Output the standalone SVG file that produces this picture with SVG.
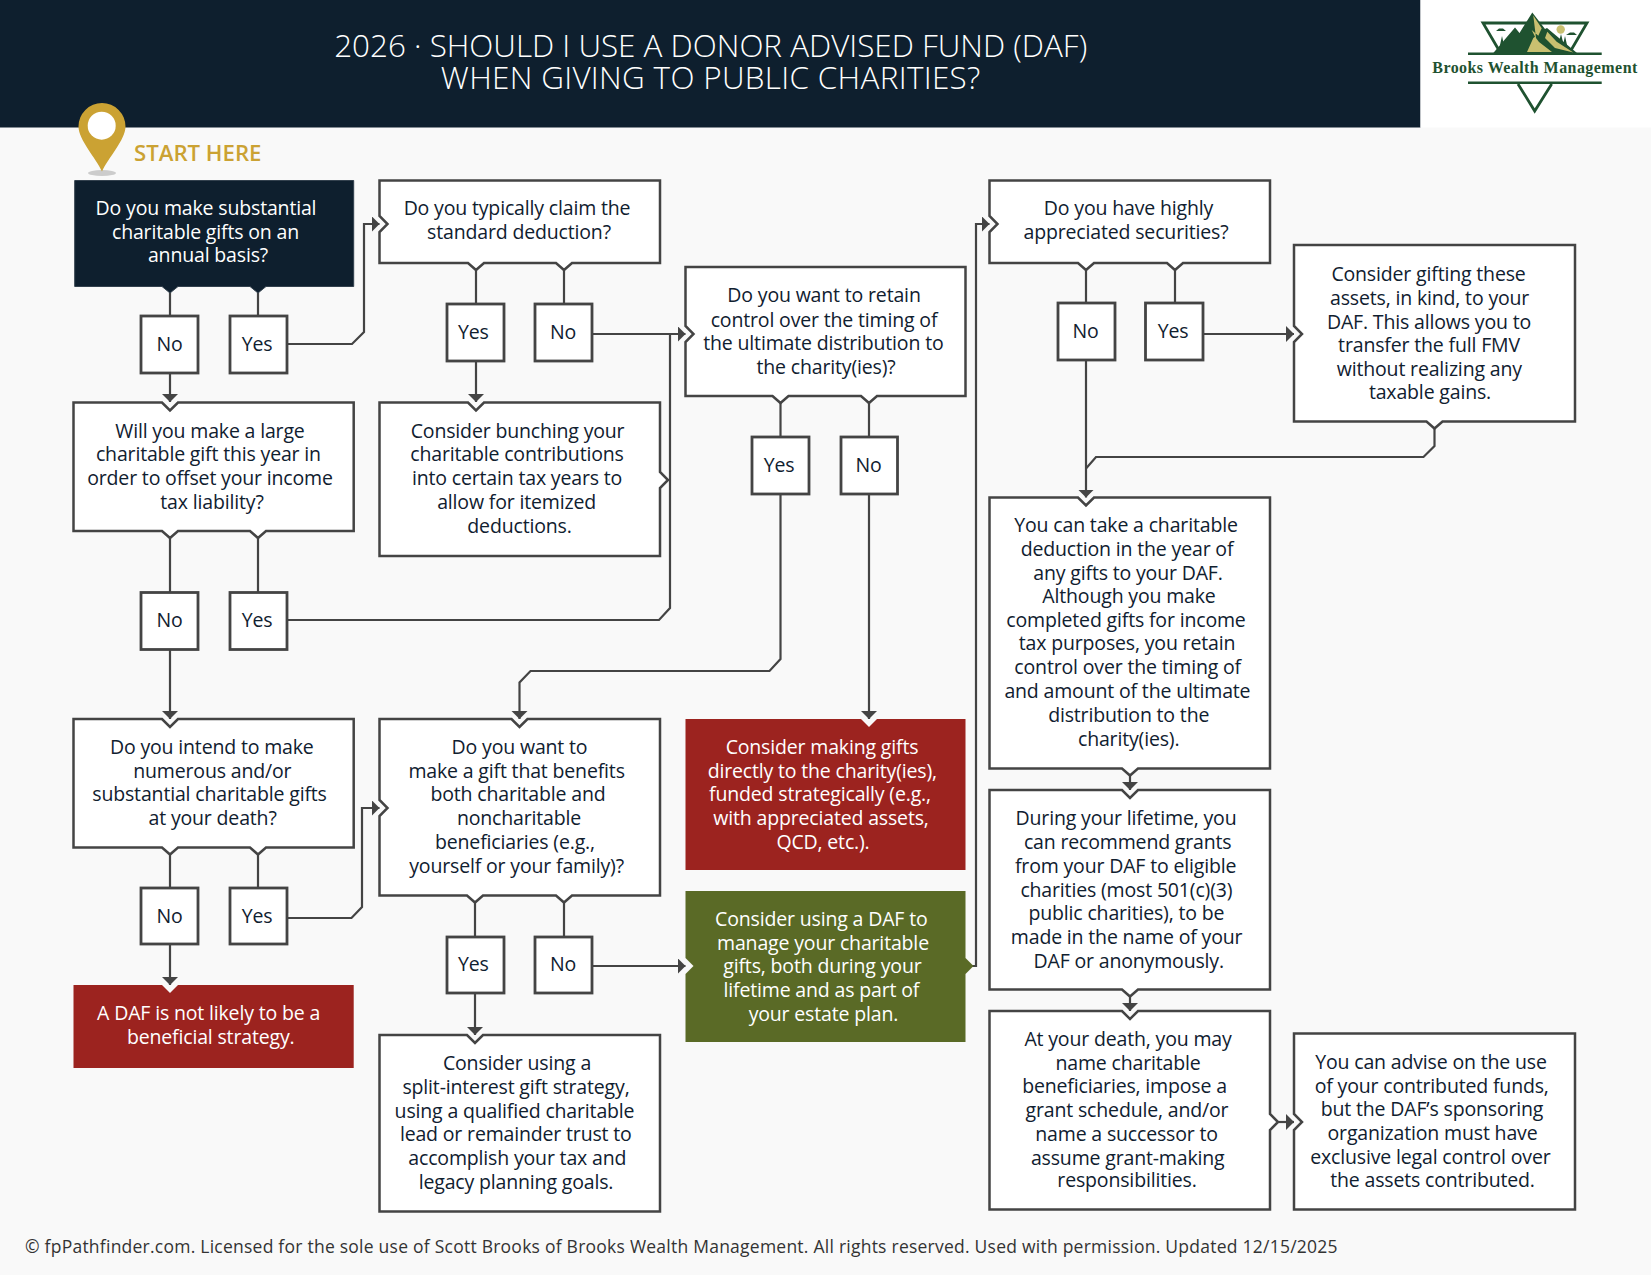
<svg xmlns="http://www.w3.org/2000/svg" width="1651" height="1275" viewBox="0 0 1651 1275">
<defs>
<marker id="ah" markerUnits="userSpaceOnUse" markerWidth="9" markerHeight="18" refX="8" refY="8" orient="auto"><path d="M0 0L8 8L0 16Z" fill="#444"/></marker>
</defs>
<style>
text{font-family:"Open Sans","Noto Sans","Liberation Sans",sans-serif}
.b{fill:#fff;stroke:#444;stroke-width:2.5}
.t{font-size:19.5px;letter-spacing:-.16px;fill:#10202f;text-anchor:middle}
.c{fill:none;stroke:#444;stroke-width:2.2;stroke-linejoin:miter}
.yn{fill:#fff;stroke:#444;stroke-width:2.8}
.title{font-size:31.4px;font-weight:300;fill:#fff;text-anchor:middle}
.lg{fill:none;stroke:#1f5230;stroke-width:2.8}
</style>
<rect width="1651" height="1275" fill="#f9f9f9"/>
<g id="header">
<rect width="1420.5" height="127.5" fill="#0e1f2e"/>
<rect x="1420.5" width="230.5" height="127.5" fill="#fff"/>
<text class="title" x="710.7" y="57">2026 · SHOULD I USE A DONOR ADVISED FUND (DAF)</text>
<text class="title" x="710.7" y="89" letter-spacing=".33">WHEN GIVING TO PUBLIC CHARITIES?</text>
</g>
<g id="logo">
<path class="lg" d="M1500 52L1483 23H1587L1570 52"/>
<path d="M1468 52.5H1601.7V55H1468ZM1468 81.5H1601.7V84H1468Z" fill="#1f5230"/>
<path class="lg" d="M1518 84L1534.7 111L1551.7 84"/>
<circle cx="1560.7" cy="29.5" r="4.2" fill="#c9c070"/>
<path d="M1496 31h10l-3-2.5h-4ZM1566 35h11l-3-2.500h-4Z" fill="#1f5230"/>
<path d="M1500 45l2-9 2 9ZM1563 45l2-9 2 9ZM1559 42l2-8 2 8Z" fill="#1f5230"/>
<path d="M1493.300 53L1515 27.500L1519.500 33L1532.300 12.500L1545 29L1547 28L1577 53Z" fill="#1f5230"/>
<path d="M1533.300 15.500L1541.700 28.300L1538.300 35.700L1531.700 30L1535 36.700L1533.300 38L1527 52H1552L1539 42L1536 38ZM1547.300 31.700L1556.700 41.700L1573.300 52.500L1555 48L1545 38Z" fill="#c9c070"/>
<text x="1432.300" y="73.300" font-size="16" font-weight="700" fill="#1f5230" textLength="205" lengthAdjust="spacing" style="font-family:'Liberation Serif',serif">Brooks Wealth Management</text>
</g>
<g id="start">
<ellipse cx="102" cy="173" rx="14" ry="3" fill="#ccc"/>
<path d="M102 171.500C96 158 78.500 140 78.500 126.500A23.500 23.500 0 0 1 125.500 126.500C125.500 140 108 158 102 171.500Z" fill="#cba233"/>
<circle cx="101.700" cy="125.700" r="14" fill="#fff"/>
<text x="134" y="160.700" font-size="22.200" font-weight="600" fill="#cba233">START HERE</text>
</g>
<g id="connectors">
<path class="c" d="M170 286.500V316M258 286.500V316"/>
<path class="c" d="M170 373V402" marker-end="url(#ah)"/>
<path class="c" d="M287 344H352L364 332V224H379.500" marker-end="url(#ah)"/>
<path class="c" d="M476 263V304M564 263V304"/>
<path class="c" d="M476 361V402" marker-end="url(#ah)"/>
<path class="c" d="M592 334H685.500" marker-end="url(#ah)"/>
<path class="c" d="M287 620H659L670 608V334M664 480H670"/>
<path class="c" d="M780.500 396V437M869 396V437"/>
<path class="c" d="M780.500 494V659L769.500 671H530.500L519.500 682.500V719" marker-end="url(#ah)"/>
<path class="c" d="M869 494V719" marker-end="url(#ah)"/>
<path class="c" d="M170 531V593M258 531V593"/>
<path class="c" d="M170 649V719" marker-end="url(#ah)"/>
<path class="c" d="M170 848V888M258 848V888"/>
<path class="c" d="M287 918H351.500L362 907V808H379.500" marker-end="url(#ah)"/>
<path class="c" d="M170 944V985" marker-end="url(#ah)"/>
<path class="c" d="M475 895.500V937M564 895.500V937"/>
<path class="c" d="M475 993V1035" marker-end="url(#ah)"/>
<path class="c" d="M592 966H685.500" marker-end="url(#ah)"/>
<path class="c" d="M970 966H976V224H989.500" marker-end="url(#ah)"/>
<path class="c" d="M1086 263V303M1175 263V303"/>
<path class="c" d="M1086 360V497.500" marker-end="url(#ah)"/>
<path class="c" d="M1203 334H1294" marker-end="url(#ah)"/>
<path class="c" d="M1434.500 421.500V446L1423.500 457H1096L1086 468.500"/>
<path class="c" d="M1130 768.500V790" marker-end="url(#ah)"/>
<path class="c" d="M1130 989.500V1011" marker-end="url(#ah)"/>
<path class="c" d="M1272 1122H1294" marker-end="url(#ah)"/>
</g>
<g id="q1">
<path d="M74.700 180.500H353.700V286.500H266L258 293L250 286.500H178L170 293L162 286.500H74.700Z" fill="#0e1f2e" stroke="#33414e"/>
<text class="t" style="fill:#fff"><tspan x="206" y="215">Do you make substantial</tspan><tspan x="205.500" y="238.500">charitable gifts on an</tspan><tspan x="208" y="262">annual basis?</tspan></text>
</g>
<g id="q2">
<path class="b" d="M379.500 180.500H660V263H572L564 270L556 263H484L476 270L468 263H379.500V232L387.500 224L379.500 216Z"/>
<text class="t"><tspan x="517" y="215">Do you typically claim the</tspan><tspan x="519" y="239">standard deduction?</tspan></text>
</g>
<g id="q3">
<path class="b" d="M73.500 402.500H162L170 410.500L178 402.500H353.700V531H266L258 538L250 531H178L170 538L162 531H73.500Z"/>
<text class="t"><tspan x="210" y="437.500">Will you make a large</tspan><tspan x="208.400" y="461">charitable gift this year in</tspan><tspan x="210" y="485">order to offset your income</tspan><tspan x="212" y="509">tax liability?</tspan></text>
</g>
<g id="bunching">
<path class="b" d="M379.500 402.500H468L476 410.500L484 402.500H660V472L668 480L660 488V556H379.500Z"/>
<text class="t"><tspan x="517.600" y="437.500">Consider bunching your</tspan><tspan x="517" y="461">charitable contributions</tspan><tspan x="517" y="485">into certain tax years to</tspan><tspan x="516.600" y="509">allow for itemized</tspan><tspan x="519.500" y="533">deductions.</tspan></text>
</g>
<g id="retain">
<path class="b" d="M685.500 267H965.500V396H877L869 403L861 396H788.500L780.500 403L772.500 396H685.500V342L693.500 334L685.500 326Z"/>
<text class="t"><tspan x="824" y="302">Do you want to retain</tspan><tspan x="824" y="326.500">control over the timing of</tspan><tspan x="823.400" y="350">the ultimate distribution to</tspan><tspan x="826" y="374">the charity(ies)?</tspan></text>
</g>
<g id="highly">
<path class="b" d="M989.500 180.500H1270V263H1183L1175 270L1167 263H1094L1086 270L1078 263H989.500V232L997.500 224L989.500 216Z"/>
<text class="t"><tspan x="1128.500" y="215">Do you have highly</tspan><tspan x="1126" y="239">appreciated securities?</tspan></text>
</g>
<g id="gifting">
<path class="b" d="M1294 245H1575V421.500H1442.500L1434.500 428.500L1426.500 421.500H1294V342L1302 334L1294 326Z"/>
<text class="t"><tspan x="1428.500" y="281">Consider gifting these</tspan><tspan x="1429.600" y="304.500">assets, in kind, to your</tspan><tspan x="1429" y="328.500">DAF. This allows you to</tspan><tspan x="1429" y="352">transfer the full FMV</tspan><tspan x="1429.300" y="376">without realizing any</tspan><tspan x="1430" y="399">taxable gains.</tspan></text>
</g>
<g id="take">
<path class="b" d="M989.500 497.500H1078L1086 505.500L1094 497.500H1270V768.500H1138L1130 775.500L1122 768.500H989.500Z"/>
<text class="t"><tspan x="1126" y="532">You can take a charitable</tspan><tspan x="1127" y="556">deduction in the year of</tspan><tspan x="1128" y="580">any gifts to your DAF.</tspan><tspan x="1129" y="603">Although you make</tspan><tspan x="1126" y="627">completed gifts for income</tspan><tspan x="1127" y="650">tax purposes, you retain</tspan><tspan x="1127.700" y="674">control over the timing of</tspan><tspan x="1127.400" y="698">and amount of the ultimate</tspan><tspan x="1128.700" y="722">distribution to the</tspan><tspan x="1128.700" y="746">charity(ies).</tspan></text>
</g>
<g id="during">
<path class="b" d="M989.500 790H1122L1130 798L1138 790H1270V989.500H1138L1130 996.500L1122 989.500H989.500Z"/>
<text class="t"><tspan x="1126" y="825.400">During your lifetime, you</tspan><tspan x="1127.700" y="849">can recommend grants</tspan><tspan x="1125.600" y="873">from your DAF to eligible</tspan><tspan x="1126.400" y="897">charities (most 501(c)(3)</tspan><tspan x="1126.400" y="920">public charities), to be</tspan><tspan x="1126.600" y="944">made in the name of your</tspan><tspan x="1128.700" y="968">DAF or anonymously.</tspan></text>
</g>
<g id="death">
<path class="b" d="M989.500 1011H1122L1130 1019L1138 1011H1270V1114L1278 1122L1270 1130V1209.500H989.500Z"/>
<text class="t"><tspan x="1128" y="1046">At your death, you may</tspan><tspan x="1128" y="1069.600">name charitable</tspan><tspan x="1124.500" y="1093.400">beneficiaries, impose a</tspan><tspan x="1127" y="1117">grant schedule, and/or</tspan><tspan x="1126.600" y="1141">name a successor to</tspan><tspan x="1127.700" y="1164.700">assume grant-making</tspan><tspan x="1127" y="1187.400">responsibilities.</tspan></text>
</g>
<g id="advise">
<path class="b" d="M1294 1033.500H1575V1209.500H1294V1130L1302 1122L1294 1114Z"/>
<text class="t"><tspan x="1431" y="1068.700">You can advise on the use</tspan><tspan x="1431.700" y="1092.600">of your contributed funds,</tspan><tspan x="1432" y="1115.700">but the DAF’s sponsoring</tspan><tspan x="1432.500" y="1140">organization must have</tspan><tspan x="1430.400" y="1164">exclusive legal control over</tspan><tspan x="1432.500" y="1187.400">the assets contributed.</tspan></text>
</g>
<g id="intend">
<path class="b" d="M73.500 719H162L170 727L178 719H353.700V847.500H266L258 854.500L250 847.500H178L170 854.500L162 847.500H73.500Z"/>
<text class="t"><tspan x="211.800" y="753.800">Do you intend to make</tspan><tspan x="212.300" y="778">numerous and/or</tspan><tspan x="209.500" y="801">substantial charitable gifts</tspan><tspan x="212.600" y="825">at your death?</tspan></text>
</g>
<g id="want">
<path class="b" d="M379.500 719H511.500L519.500 727L527.500 719H660V895.500H572L564 902.500L556 895.500H483L475 902.500L467 895.500H379.500V816L387.500 808L379.500 800Z"/>
<text class="t"><tspan x="519.500" y="753.800">Do you want to</tspan><tspan x="516.600" y="778">make a gift that benefits</tspan><tspan x="518" y="801">both charitable and</tspan><tspan x="519" y="825">noncharitable</tspan><tspan x="515" y="849">beneficiaries (e.g.,</tspan><tspan x="516.600" y="873">yourself or your family)?</tspan></text>
</g>
<g id="redR">
<path d="M685.500 719H861L869 727L877 719H965.500V870H685.500Z" fill="#9c231f"/>
<text class="t" style="fill:#fff"><tspan x="822" y="753.800">Consider making gifts</tspan><tspan x="822.300" y="778">directly to the charity(ies),</tspan><tspan x="820" y="801">funded strategically (e.g.,</tspan><tspan x="821" y="825">with appreciated assets,</tspan><tspan x="823" y="849">QCD, etc.).</tspan></text>
</g>
<g id="green">
<path d="M685.500 891H965.500V958L973.500 966L965.500 974V1042H685.500V974L693.500 966L685.500 958Z" fill="#5a6a26"/>
<text class="t" style="fill:#fff"><tspan x="821.300" y="926">Consider using a DAF to</tspan><tspan x="823" y="949.700">manage your charitable</tspan><tspan x="822.400" y="973">gifts, both during your</tspan><tspan x="821.300" y="996.700">lifetime and as part of</tspan><tspan x="823.400" y="1020.600">your estate plan.</tspan></text>
</g>
<g id="redS">
<path d="M73.500 985H162L170 993L178 985H353.700V1068H73.500Z" fill="#9c231f"/>
<text class="t" style="fill:#fff"><tspan x="208.600" y="1019.800">A DAF is not likely to be a</tspan><tspan x="210.700" y="1043.600">beneficial strategy.</tspan></text>
</g>
<g id="split">
<path class="b" d="M379.500 1035H467L475 1043L483 1035H660V1211.500H379.500Z"/>
<text class="t"><tspan x="517" y="1070">Consider using a</tspan><tspan x="516" y="1094">split-interest gift strategy,</tspan><tspan x="514.500" y="1117.700">using a qualified charitable</tspan><tspan x="515.800" y="1140.800">lead or remainder trust to</tspan><tspan x="517.300" y="1165">accomplish your tax and</tspan><tspan x="516" y="1189">legacy planning goals.</tspan></text>
</g>
<g id="yn1"><rect class="yn" x="141" y="316" width="57" height="57"/><text class="t" x="169.600" y="351">No</text></g>
<g id="yn2"><rect class="yn" x="230" y="316" width="57" height="57"/><text class="t" x="257" y="351">Yes</text></g>
<g id="yn3"><rect class="yn" x="447" y="304" width="57" height="57"/><text class="t" x="473.400" y="339">Yes</text></g>
<g id="yn4"><rect class="yn" x="535" y="304" width="57" height="57"/><text class="t" x="563" y="339">No</text></g>
<g id="yn5"><rect class="yn" x="752" y="437" width="57" height="57"/><text class="t" x="779" y="472">Yes</text></g>
<g id="yn6"><rect class="yn" x="841" y="437" width="56.500" height="57"/><text class="t" x="868.500" y="472">No</text></g>
<g id="yn7"><rect class="yn" x="141" y="592.500" width="57" height="57"/><text class="t" x="169.600" y="627">No</text></g>
<g id="yn8"><rect class="yn" x="230" y="592.500" width="57" height="57"/><text class="t" x="257" y="627">Yes</text></g>
<g id="yn9"><rect class="yn" x="141" y="888" width="57" height="56"/><text class="t" x="169.600" y="923">No</text></g>
<g id="yn10"><rect class="yn" x="230" y="888" width="57" height="56"/><text class="t" x="257" y="923">Yes</text></g>
<g id="yn11"><rect class="yn" x="447" y="937" width="57" height="56"/><text class="t" x="473.400" y="971">Yes</text></g>
<g id="yn12"><rect class="yn" x="535" y="937" width="57" height="56"/><text class="t" x="563" y="971">No</text></g>
<g id="yn13"><rect class="yn" x="1058" y="303" width="57" height="57"/><text class="t" x="1085.500" y="338">No</text></g>
<g id="yn14"><rect class="yn" x="1145.500" y="303" width="57.500" height="57"/><text class="t" x="1173" y="338">Yes</text></g>
<text x="25" y="1253.400" font-size="17.500" letter-spacing=".24" fill="#333">© fpPathfinder.com. Licensed for the sole use of Scott Brooks of Brooks Wealth Management. All rights reserved. Used with permission. Updated 12/15/2025</text>
</svg>
